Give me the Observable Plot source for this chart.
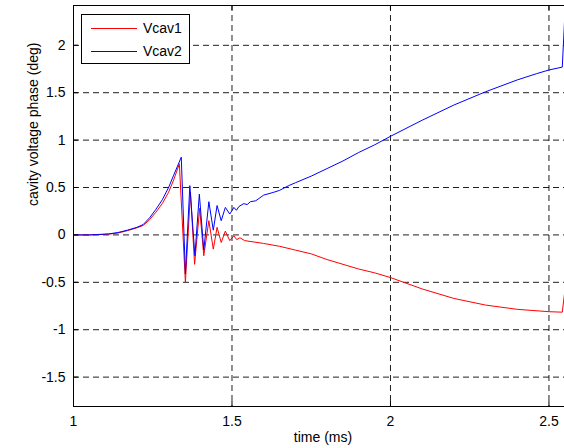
<!DOCTYPE html>
<html>
<head>
<meta charset="utf-8">
<script src="https://cdn.jsdelivr.net/npm/d3@7"></script>
<script src="https://cdn.jsdelivr.net/npm/@observablehq/plot@0.6"></script>
<style>
  html, body { margin: 0; padding: 0; background: #fff; }
  #wrap { position: relative; width: 564px; height: 448px; overflow: hidden; font-family: "Liberation Sans", Arial, sans-serif; }
  #legend { position: absolute; left: 81px; top: 14px; width: 107px; height: 48px; border: 1px solid #000; background: #fff; font-size: 14px; }
  #legend .row { position: absolute; left: 0; height: 18px; display: flex; align-items: center; }
  #legend .sw { display: inline-block; width: 46px; height: 1px; margin-left: 9px; margin-right: 6px; }
</style>
</head>
<body>
<div id="wrap"></div>
<script>
// ---- data ----
const seriesNames = ["Vcav1", "Vcav2"];
const seriesColors = ["#ff0000", "#0000ff"];

// Vcav1 (red)
const t1 = [1.00, 1.05, 1.08, 1.11, 1.14, 1.17, 1.20, 1.22, 1.24, 1.26, 1.28, 1.30, 1.316, 1.334,
  1.353, 1.369, 1.382, 1.398, 1.411, 1.427, 1.441, 1.453, 1.466, 1.479, 1.493, 1.506, 1.515, 1.525,
  1.54, 1.56, 1.60, 1.65, 1.70, 1.75, 1.80, 1.85, 1.90, 1.95, 2.00, 2.10, 2.20, 2.30, 2.40, 2.50, 2.542, 2.549];
const v1 = [0, 0, 0.003, 0.008, 0.02, 0.045, 0.075, 0.10, 0.16, 0.24, 0.33, 0.45, 0.58, 0.75,
  -0.50, 0.45, -0.31, 0.28, -0.22, 0.15, -0.15, 0.08, -0.08, 0.04, -0.06, -0.01, -0.05, -0.03,
  -0.06, -0.07, -0.09, -0.12, -0.16, -0.20, -0.26, -0.31, -0.36, -0.40, -0.45, -0.57, -0.67, -0.74, -0.785, -0.81, -0.815, -0.62];

// Vcav2 (blue)
const t2 = [1.00, 1.05, 1.08, 1.11, 1.14, 1.17, 1.20, 1.22, 1.24, 1.26, 1.28, 1.30, 1.316, 1.33, 1.34,
  1.353, 1.367, 1.383, 1.397, 1.411, 1.427, 1.441, 1.453, 1.466, 1.479, 1.493, 1.506, 1.514, 1.522,
  1.537, 1.548, 1.558, 1.575, 1.60, 1.632, 1.65, 1.679, 1.70, 1.75, 1.80, 1.85, 1.90, 1.95, 2.00,
  2.10, 2.20, 2.30, 2.40, 2.46, 2.50, 2.542, 2.549];
const v2 = [0, 0, 0.005, 0.01, 0.025, 0.05, 0.08, 0.11, 0.18, 0.27, 0.37, 0.50, 0.63, 0.74, 0.82,
  -0.41, 0.52, -0.22, 0.43, -0.16, 0.35, 0.05, 0.31, 0.15, 0.29, 0.22, 0.29, 0.26, 0.30,
  0.33, 0.32, 0.35, 0.36, 0.42, 0.45, 0.47, 0.52, 0.55, 0.62, 0.70, 0.78, 0.87, 0.95, 1.04,
  1.21, 1.37, 1.51, 1.635, 1.70, 1.74, 1.77, 2.25];

const xTicks = [1, 1.5, 2, 2.5];
const yTicks = [-1.5, -1, -0.5, 0, 0.5, 1, 1.5, 2];
const xDomain = [1, 2.549];
const yDomain = [-1.81, 2.42];
const xLabel = "time (ms)";
const yLabel = "cavity voltage phase (deg)";

// ---- build table ----
const rows = [
  ...t1.map((t, i) => ({series: seriesNames[0], t, v: v1[i]})),
  ...t2.map((t, i) => ({series: seriesNames[1], t, v: v2[i]}))
];

const W = 564, H = 448, ML = 73, MR = 0, MT = 5, MB = 42;
const frameW = W - ML - MR, frameH = H - MT - MB;
const tickLen = 5;
const fmt = d => String(d);
const gridStyle = {stroke: "#000", strokeOpacity: 0.88, strokeWidth: 1, strokeDasharray: "6,4"};

const chart = Plot.plot({
  width: W, height: H,
  marginLeft: ML, marginRight: MR, marginTop: MT, marginBottom: MB,
  style: {fontFamily: '"Liberation Sans", Arial, sans-serif', fontSize: "14px", background: "#fff", color: "#000"},
  x: {domain: xDomain},
  y: {domain: yDomain},
  color: {domain: seriesNames, range: seriesColors},
  marks: [
    Plot.ruleX(xTicks.filter(d => d !== xDomain[0]), {x: d => d, ...gridStyle}),
    Plot.ruleY(yTicks, {y: d => d, ...gridStyle}),
    Plot.line(rows, {x: "t", y: "v", z: "series", stroke: "series", strokeWidth: 1}),
    Plot.ruleX([xDomain[0]], {x: d => d, stroke: "#000", strokeWidth: 1}),
    Plot.ruleY([yDomain[0]], {y: d => d, stroke: "#000", strokeWidth: 1}),
    Plot.ruleY([yDomain[1]], {y: d => d, stroke: "#000", strokeWidth: 1}),
    Plot.tickY(yTicks, {y: d => d, stroke: "#000", insetRight: frameW - tickLen}),
    Plot.tickX(xTicks, {x: d => d, stroke: "#000", insetTop: frameH - tickLen}),
    Plot.tickX(xTicks, {x: d => d, stroke: "#000", insetBottom: frameH - tickLen}),
    Plot.axisX(xTicks, {tickSize: 0, tickPadding: 10, label: null, tickFormat: fmt, fontSize: 14}),
    Plot.axisY(yTicks, {tickSize: 0, tickPadding: 8, label: null, tickFormat: fmt, fontSize: 14}),
    Plot.text([xLabel], {text: d => d, frameAnchor: "bottom", dy: 31, dx: 4, lineAnchor: "middle", fontSize: 14}),
    Plot.text([yLabel], {text: d => d, frameAnchor: "left", rotate: -90, dx: -40, lineAnchor: "middle", fontSize: 14})
  ]
});

const wrap = document.getElementById("wrap");
wrap.appendChild(chart);

// legend (HTML overlay)
const legend = document.createElement("div");
legend.id = "legend";
seriesNames.forEach((name, i) => {
  const row = document.createElement("div");
  row.className = "row";
  row.style.top = (4 + i * 23) + "px";
  const sw = document.createElement("span");
  sw.className = "sw";
  sw.style.background = seriesColors[i];
  const lab = document.createElement("span");
  lab.textContent = name;
  row.appendChild(sw);
  row.appendChild(lab);
  legend.appendChild(row);
});
wrap.appendChild(legend);
</script>
</body>
</html>
